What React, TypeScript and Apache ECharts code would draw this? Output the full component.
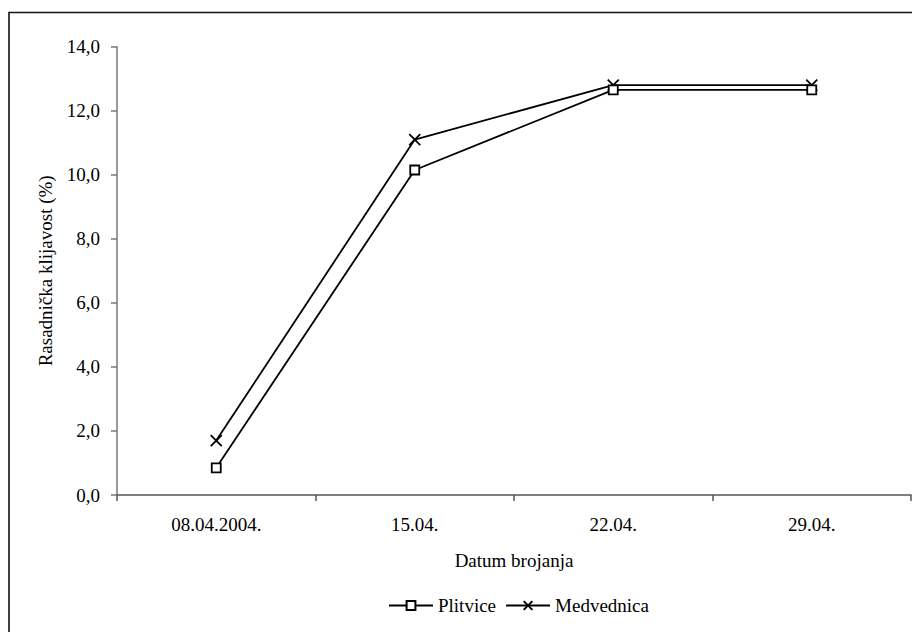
import React, { useEffect, useRef } from "react";
import * as echarts from "echarts";

const categories = ["08.04.2004.", "15.04.", "22.04.", "29.04."];
const plitvice = [0.85, 10.15, 12.65, 12.65];
const medvednica = [1.7, 11.1, 12.8, 12.8];
const seriesNames = ["Plitvice", "Medvednica"];
const yAxisTitle = "Rasadnička klijavost (%)";
const xAxisTitle = "Datum brojanja";

const FONT = "Times New Roman, Liberation Serif, serif";

export default function App() {
  const ref = useRef<HTMLDivElement>(null);
  useEffect(() => {
    if (!ref.current) return;
    const chart = echarts.init(ref.current, undefined, { renderer: "svg" });
    chart.setOption({
      animation: false,
      backgroundColor: "#fff",
      textStyle: { fontFamily: FONT, color: "#000" },
      graphic: [
        {
          type: "rect",
          shape: { x: 9, y: 12.5, width: 1000, height: 1000 },
          style: { fill: "none", stroke: "#111", lineWidth: 1.6 },
          silent: true,
        },
      ],
      grid: { left: 117, right: 1, top: 46.7, bottom: 137, containLabel: false },
      legend: {
        data: seriesNames,
        left: 383,
        top: 591,
        itemWidth: 44,
        itemHeight: 11,
        itemGap: 9,
        textStyle: { fontFamily: FONT, fontSize: 19, color: "#000" },
      },
      xAxis: {
        type: "category",
        data: categories,
        boundaryGap: true,
        axisLine: { lineStyle: { color: "#555", width: 1.5 } },
        axisTick: { show: true, length: 6, lineStyle: { color: "#555", width: 1.5 } },
        axisLabel: { margin: 20, fontFamily: FONT, fontSize: 19, color: "#000" },
        name: xAxisTitle,
        nameLocation: "middle",
        nameGap: 56,
        nameTextStyle: { fontFamily: FONT, fontSize: 19, color: "#000" },
      },
      yAxis: {
        type: "value",
        min: 0,
        max: 14,
        interval: 2,
        splitLine: { show: false },
        axisLine: { show: true, lineStyle: { color: "#777", width: 1.5 } },
        axisTick: { show: true, length: 6, lineStyle: { color: "#777", width: 1.5 } },
        axisLabel: {
          margin: 17,
          fontFamily: FONT,
          fontSize: 19,
          color: "#000",
          formatter: (v: number) => v.toFixed(1).replace(".", ","),
        },
        name: yAxisTitle,
        nameLocation: "middle",
        nameGap: 62,
        nameRotate: 90,
        nameTextStyle: { fontFamily: FONT, fontSize: 19, color: "#000" },
      },
      series: [
        {
          name: seriesNames[0],
          type: "line",
          data: plitvice,
          symbol: "rect",
          symbolSize: 9,
          lineStyle: { color: "#000", width: 1.8 },
          itemStyle: { color: "#fff", borderColor: "#000", borderWidth: 1.8 },
          z: 3,
        },
        {
          name: seriesNames[1],
          type: "line",
          data: medvednica,
          symbol: "path://M0,0L10,10M10,0L0,10",
          symbolSize: 11,
          lineStyle: { color: "#000", width: 1.8 },
          itemStyle: { color: "#000", borderColor: "#000", borderWidth: 1.8 },
          z: 2,
        },
      ],
    });
    return () => chart.dispose();
  }, []);
  return (
    <div
      ref={ref}
      style={{ position: "fixed", left: 0, top: 0, width: 912, height: 632 }}
    />
  );
}
